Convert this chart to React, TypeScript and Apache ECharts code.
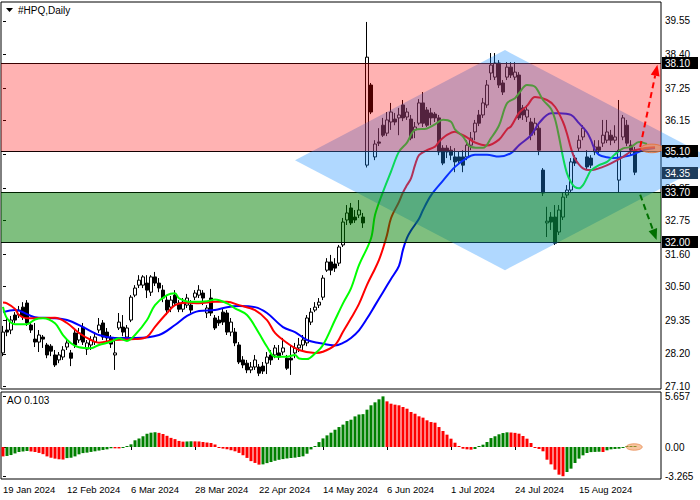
import React, { useEffect, useRef } from "react";
import * as echarts from "echarts";

const FONT = '"Liberation Sans", Arial, sans-serif';
const MONTHS = ["Jan", "Feb", "Mar", "Apr", "May", "Jun", "Jul", "Aug", "Sep", "Oct", "Nov", "Dec"];

// ---- calendar ----
const firstSession = "2024-01-19";
const marketHolidays = ["2024-02-19", "2024-03-29", "2024-05-27", "2024-06-19", "2024-07-04", "2024-09-02"];
const slotCount = 165; // bars + right margin where the shifted Alligator lines continue
const labelStep = 16;
const lastLabelIndex = 144;

// ---- daily candles: [open, high, low, close] ----
const candles: number[][] = [
  [28.23, 29.15, 28.12, 28.94], [29.01, 29.42, 28.8, 28.94], [29.01, 29.49, 28.87, 29.35], [29.52, 29.62, 29.25, 29.35],
  [29.52, 29.83, 29.42, 29.69], [29.79, 29.96, 29.35, 29.45], [29.93, 30.03, 29.15, 29.25], [29.18, 29.28, 28.91, 29.01],
  [28.7, 29.25, 28.43, 28.6], [28.6, 29.01, 28.26, 28.84],
  [28.77, 28.84, 28.4, 28.7], [28.5, 28.57, 28.05, 28.16], [28.46, 28.53, 28.12, 28.29], [28.16, 28.33, 27.75, 27.82],
  [27.99, 28.26, 27.88, 28.16], [28.09, 28.46, 27.99, 28.33], [28.43, 28.67, 28.33, 28.57], [28.23, 28.33, 27.78, 28.05],
  [28.91, 29.01, 28.4, 28.5], [28.67, 29.08, 28.57, 28.91],
  [29.11, 29.25, 28.5, 28.6], [28.36, 28.67, 28.16, 28.57], [28.5, 28.8, 28.33, 28.67], [28.6, 28.91, 28.5, 28.77],
  [29.01, 29.42, 28.91, 29.18], [29.25, 29.35, 28.67, 28.77], [28.94, 29.08, 28.6, 28.74], [28.74, 28.84, 28.4, 28.53],
  [28.16, 28.67, 27.65, 28.23], [29.08, 29.59, 29.01, 29.28],
  [29.11, 29.52, 28.8, 28.94], [28.77, 29.18, 28.67, 29.08], [29.35, 30.2, 29.28, 30.13], [30.2, 30.54, 30.13, 30.44],
  [30.54, 30.88, 30.44, 30.71], [30.54, 30.88, 30.44, 30.82], [30.61, 30.88, 30.1, 30.37], [30.3, 30.88, 30.17, 30.82],
  [30.82, 30.99, 30.51, 30.61], [30.61, 30.78, 30.3, 30.44],
  [30.37, 30.54, 29.96, 30.1], [30.03, 30.17, 29.52, 29.69], [29.79, 30.17, 29.62, 30.03], [30.2, 30.37, 29.83, 29.93],
  [29.93, 30.03, 29.62, 29.72], [29.72, 30.1, 29.62, 29.96], [29.86, 30.24, 29.76, 30.1], [29.86, 30.03, 29.59, 29.69],
  [30.13, 30.37, 30.03, 30.27], [30.2, 30.54, 30.1, 30.37],
  [30.27, 30.37, 29.86, 30.1], [29.59, 29.86, 29.42, 29.76], [30.1, 30.41, 29.49, 29.59], [29.42, 29.52, 29.01, 29.08],
  [29.35, 29.49, 29.15, 29.25], [29.62, 29.76, 29.18, 29.28], [29.59, 29.69, 28.84, 28.94], [28.94, 29.42, 28.8, 29.28],
  [28.94, 29.08, 28.46, 28.57], [28.5, 28.6, 27.85, 27.92],
  [27.99, 28.12, 27.71, 27.82], [27.88, 27.99, 27.54, 27.65], [27.65, 27.92, 27.54, 27.75], [27.75, 28.16, 27.65, 27.99],
  [27.75, 27.85, 27.44, 27.54], [27.78, 27.92, 27.51, 27.61], [27.88, 28.26, 27.51, 28.09], [28.16, 28.33, 27.82, 27.99],
  [28.16, 28.5, 28.05, 28.4], [28.23, 28.5, 27.99, 28.09],
  [28.26, 28.74, 28.16, 28.4], [28.05, 28.16, 27.65, 27.71], [28.05, 28.5, 27.48, 27.99], [28.23, 28.57, 28.05, 28.4],
  [28.4, 28.74, 28.26, 28.5], [28.5, 28.84, 28.33, 28.67], [28.57, 29.52, 28.46, 29.42], [29.28, 29.76, 29.18, 29.62],
  [29.69, 29.96, 29.62, 29.79], [29.86, 30.1, 29.76, 29.96],
  [30.13, 30.88, 30.03, 30.78], [31.05, 31.46, 30.99, 31.33], [31.33, 31.57, 30.88, 31.05], [31.26, 31.46, 30.99, 31.12],
  [31.29, 31.91, 31.19, 31.84], [31.91, 32.83, 31.84, 32.69], [32.76, 33.27, 32.59, 33.0], [33.17, 33.34, 32.59, 32.66],
  [32.86, 33.1, 32.66, 32.76], [32.93, 33.44, 32.83, 33.1],
  [32.86, 33.0, 32.49, 32.66], [34.63, 39.51, 34.55, 38.31], [37.36, 37.43, 36.37, 36.44], [34.91, 35.48, 34.8, 35.35],
  [35.42, 35.89, 35.28, 35.38], [35.99, 36.24, 35.59, 35.65], [35.72, 36.44, 35.62, 36.17], [36.1, 36.75, 35.83, 36.44],
  [36.2, 36.41, 35.99, 36.1], [36.24, 36.58, 35.65, 36.34],
  [36.68, 36.85, 36.13, 36.24], [36.27, 36.58, 36.17, 36.44], [36.2, 36.34, 35.48, 35.55], [35.83, 36.1, 35.55, 35.93],
  [36.06, 36.88, 35.99, 36.75], [36.75, 37.12, 35.93, 36.06], [36.51, 36.61, 35.93, 35.99], [36.41, 36.58, 35.99, 36.24],
  [36.37, 36.44, 36.1, 36.24], [36.24, 36.34, 34.97, 35.08],
  [35.21, 35.31, 34.63, 34.7], [35.21, 35.31, 34.87, 35.08], [35.14, 35.28, 34.8, 34.97], [34.91, 35.21, 34.39, 34.74],
  [34.91, 35.08, 34.7, 34.77], [34.91, 35.14, 34.39, 34.63], [34.91, 35.48, 34.8, 35.31], [35.31, 35.76, 35.14, 35.55],
  [35.76, 36.17, 35.48, 36.06], [36.34, 36.51, 35.96, 36.06],
  [36.34, 36.92, 36.24, 36.75], [36.68, 37.53, 36.58, 37.36], [37.77, 38.45, 37.53, 38.04], [37.63, 38.45, 37.53, 38.11],
  [38.11, 38.21, 37.26, 37.36], [37.43, 37.53, 37.02, 37.12], [37.63, 38.14, 37.53, 37.97], [37.97, 38.14, 37.6, 37.7],
  [37.63, 38.14, 37.53, 37.8], [37.7, 37.8, 36.17, 36.24],
  [36.58, 36.68, 36.17, 36.34], [36.27, 36.68, 36.1, 36.51], [36.1, 36.24, 35.48, 35.65], [35.83, 36.24, 35.65, 36.06],
  [35.89, 35.99, 34.97, 35.14], [34.46, 34.53, 33.58, 33.68], [32.66, 33.21, 32.18, 32.72], [32.86, 33.03, 32.42, 32.69],
  [32.86, 33.27, 31.91, 31.97], [32.35, 33.27, 32.25, 33.1],
  [32.86, 33.68, 32.76, 33.54], [33.61, 33.95, 33.51, 33.78], [33.78, 34.87, 33.71, 34.74], [34.87, 34.97, 34.6, 34.7],
  [35.21, 35.65, 35.08, 35.48], [35.59, 35.99, 35.48, 35.89], [34.91, 35.14, 34.46, 34.57], [34.87, 34.97, 34.53, 34.63],
  [35.08, 35.48, 34.97, 35.25], [35.25, 35.48, 35.04, 35.14],
  [35.38, 36.17, 35.25, 35.65], [35.48, 36.17, 35.38, 35.76], [35.65, 35.83, 35.31, 35.48], [35.48, 35.99, 35.38, 35.59],
  [34.12, 36.85, 33.71, 35.14], [35.59, 36.34, 35.48, 36.24], [35.99, 36.17, 35.28, 35.38], [35.31, 35.48, 34.97, 35.14],
  [35.14, 35.25, 34.29, 34.39],
];

// ---- Alligator lines, read at sample bars: [bar index, price] ----
const jaw: number[][] = [
  [0, 29.62], [3, 29.69], [8, 29.45], [12, 29.42], [16, 29.35], [20, 29.11], [24, 28.84], [28, 28.74], [33, 28.74],
  [39, 28.84], [43, 29.18], [46, 29.49], [49, 29.66], [53, 29.69], [56, 29.79], [59, 29.83], [63, 29.79], [66, 29.59],
  [70, 29.11], [73, 28.94], [76, 28.67], [79, 28.57], [83, 28.48], [85, 28.57], [87, 28.74], [89, 29.0], [91, 29.4],
  [93, 29.85], [95, 30.3], [97, 30.75], [99, 31.2], [100, 31.75], [101, 32.15], [102, 32.4], [104, 32.8], [105, 33.1],
  [107, 33.6], [110, 34.1], [113, 34.57], [116, 34.88], [118, 34.98], [121, 34.98], [124, 34.92], [127, 35.04],
  [129, 35.31], [132, 35.65], [134, 36.06], [137, 36.4], [139, 36.4], [142, 36.34], [144, 36.06], [146, 35.75],
  [147, 35.48], [148, 35.15], [149, 34.98], [151, 34.9], [153, 34.87], [155, 34.91], [157, 34.97], [160, 35.14], [163, 35.21],
];
const teeth: number[][] = [
  [0, 29.95], [1, 29.92], [3, 29.73], [4, 29.52], [6, 29.41], [9, 29.42], [13, 29.43], [16, 29.25], [19, 28.91],
  [22, 28.67], [24, 28.58], [28, 28.67], [33, 28.7], [36, 28.78], [38, 29.12], [41, 29.59], [43, 29.86], [46, 29.94],
  [49, 29.92], [53, 29.97], [56, 29.97], [59, 29.86], [63, 29.69], [66, 29.35], [68, 28.91], [71, 28.57], [74, 28.33],
  [78, 28.23], [80, 28.27], [83, 28.5], [85, 28.95], [87, 29.41], [89, 29.9], [91, 30.55], [93, 31.1], [94, 31.4],
  [95, 31.79], [96, 32.25], [97, 32.82], [99, 33.38], [100, 33.7], [101, 33.95], [102, 34.18], [103, 34.63], [104, 34.97],
  [106, 35.14], [108, 35.26], [109, 35.43], [111, 35.66], [113, 35.77], [114, 35.71], [116, 35.58], [118, 35.4],
  [121, 35.3], [124, 35.5], [126, 35.85], [127, 35.95], [129, 36.41], [131, 36.65], [133, 36.95], [136, 36.85],
  [138, 36.62], [140, 36.1], [141, 35.7], [142, 35.2], [143, 34.85], [145, 34.52], [147, 34.46], [150, 34.57],
  [152, 34.69], [155, 34.91], [157, 35.09], [160, 35.2], [163, 35.24],
];
const lips: number[][] = [
  [0, 29.8], [1, 29.41], [3, 29.21], [6, 29.21], [8, 29.37], [10, 29.41], [13, 29.24], [15, 28.84], [17, 28.56],
  [19, 28.42], [22, 28.39], [24, 28.5], [27, 28.61], [29, 28.73], [31, 28.64], [33, 28.84], [36, 29.35], [38, 29.86],
  [41, 30.2], [43, 30.26], [44, 30.09], [47, 29.97], [51, 29.99], [53, 30.05], [56, 29.92], [58, 29.75], [61, 29.52],
  [64, 28.9], [66, 28.44], [68, 28.1], [71, 28.1], [73, 28.16], [74, 28.04], [76, 28.02], [78, 28.21], [80, 28.5],
  [83, 29.35], [85, 29.92], [87, 30.43], [89, 31.22], [92, 32.13], [93, 32.93], [95, 33.72], [97, 34.41], [99, 35.09],
  [101, 35.4], [103, 35.83], [106, 35.88], [108, 36.02], [110, 36.18], [112, 36.11], [113, 35.85], [115, 35.6],
  [117, 35.25], [120, 35.22], [122, 35.55], [124, 35.98], [126, 36.74], [128, 36.91], [129, 37.08], [131, 37.36],
  [133, 37.3], [135, 36.85], [137, 36.55], [138, 36.2], [139, 35.6], [140, 34.9], [141, 34.35], [142, 34.05],
  [143, 33.88], [144, 33.84], [145, 33.95], [146, 34.2], [147, 34.45], [149, 34.63], [151, 34.74], [153, 35.0],
  [155, 35.2], [157, 35.25], [159, 35.42], [161, 35.35],
];

// ---- Awesome Oscillator histogram ----
const aoValues: number[] = [
  -1.05, -1.0, -0.9, -0.72, -0.56, -0.5, -0.45, -0.5, -0.56, -0.66,
  -0.8, -1.05, -1.2, -1.3, -1.37, -1.4, -1.24, -1.2, -1.05, -0.82,
  -0.68, -0.63, -0.55, -0.48, -0.4, -0.33, -0.26, -0.14, -0.15, -0.16,
  -0.08, 0.05, 0.3, 0.75, 0.95, 1.2, 1.48, 1.6, 1.65, 1.58,
  1.45, 1.25, 1.02, 0.88, 0.68, 0.6, 0.62, 0.64, 0.63, 0.62,
  0.56, 0.5, 0.45, 0.28, -0.06, -0.18, -0.25, -0.36, -0.48, -0.66,
  -0.92, -1.22, -1.58, -1.78, -1.97, -1.94, -1.8, -1.68, -1.54, -1.43,
  -1.35, -1.28, -1.23, -1.19, -1.12, -1.04, -0.75, -0.27, 0.1, 0.55,
  0.96, 1.3, 1.6, 1.93, 2.23, 2.5, 2.9, 3.05, 3.42, 3.63,
  3.67, 4.17, 4.66, 4.99, 5.33, 5.657, 5.1, 4.84, 4.73, 4.66,
  4.47, 4.28, 3.91, 3.72, 3.43, 3.28, 2.98, 2.79, 2.72, 2.23,
  1.79, 1.38, 0.93, 0.48, 0.07, -0.19, -0.26, -0.3, -0.22, 0.02,
  0.26, 0.56, 1.0, 1.2, 1.42, 1.56, 1.64, 1.62, 1.58, 1.49,
  1.23, 0.93, 0.45, -0.02, -0.22, -0.48, -1.42, -1.94, -2.53, -3.09,
  -3.265, -2.79, -2.42, -1.79, -1.3, -0.93, -0.67, -0.57, -0.55, -0.53,
  -0.56, -0.37, -0.26, -0.22, -0.19, -0.11, 0.02, 0.06, 0.103,
];

// ---- axes ----
const priceMin = 27.0;
const priceMax = 40.19;
const priceTicks = [27.1, 28.2, 29.35, 30.5, 31.6, 32.75, 33.85, 35.0, 36.15, 37.25, 38.4, 39.55];
const aoMin = -3.575;
const aoMax = 6.145;
const aoTicks = [-3.265, 0, 5.657];

// ---- drawn analysis ----
const levels = [38.1, 35.1, 33.7, 32.0];
const lastPrice = 34.35;
const resistanceZone = [35.1, 38.1];
const supportZone = [32.0, 33.7];
const rhombus: number[][] = [[73, 34.8], [125.5, 38.55], [178, 34.8], [125.5, 31.05]];
const upArrow: number[][] = [[159.3, 35.25], [163.6, 38.05]];
const downArrow: number[][] = [[159.3, 33.62], [163.4, 32.08]];
const forecastMark = [162.2, 35.2];
const aoMark = [157.8, 0];

function buildSessions(): string[] {
  const out: string[] = [];
  const d = new Date(firstSession + "T00:00:00Z");
  while (out.length < slotCount) {
    const wd = d.getUTCDay();
    const iso = d.toISOString().slice(0, 10);
    if (wd !== 0 && wd !== 6 && !marketHolidays.includes(iso)) {
      out.push(`${d.getUTCDate()} ${MONTHS[d.getUTCMonth()]} ${d.getUTCFullYear()}`);
    }
    d.setUTCDate(d.getUTCDate() + 1);
  }
  return out;
}

export default function App() {
  const ref = useRef<HTMLDivElement>(null);
  useEffect(() => {
    const chart = echarts.init(ref.current!, null, { renderer: "svg" });
    const sessions = buildSessions();
    const ohlc = candles.map(([o, h, l, c]) => [o, c, l, h]);
    const aoData = aoValues.map((v, i) => ({
      value: v,
      itemStyle: { color: i > 0 && v > aoValues[i - 1] ? "#008000" : "#ff0000" },
    }));
    const showLabel = (idx: number) => idx % labelStep === 0 && idx <= lastLabelIndex;
    const lastAo = aoValues[aoValues.length - 1];

    const lineSeries = (name: string, data: number[][], color: string) => ({
      type: "line",
      name,
      xAxisIndex: 0,
      yAxisIndex: 0,
      data,
      smooth: 0.35,
      showSymbol: false,
      symbol: "none",
      z: 3,
      lineStyle: { color, width: 2 },
      silent: true,
    });

    const option: any = {
      animation: false,
      backgroundColor: "#ffffff",
      textStyle: { fontFamily: FONT },
      grid: [
        { left: 1, right: 39, top: 2, height: 387, show: true, borderColor: "#000", borderWidth: 1, backgroundColor: "transparent" },
        { left: 1, right: 39, top: 392, height: 87, show: true, borderColor: "#000", borderWidth: 1, backgroundColor: "transparent" },
      ],
      xAxis: [
        {
          type: "category", gridIndex: 0, data: sessions, boundaryGap: true,
          axisLine: { show: false }, axisTick: { show: false }, axisLabel: { show: false }, splitLine: { show: false },
        },
        {
          type: "category", gridIndex: 1, data: sessions, boundaryGap: true,
          axisLine: { show: false },
          axisTick: { show: true, interval: showLabel, alignWithLabel: true, length: 3, lineStyle: { color: "#000" } },
          axisLabel: { interval: showLabel, align: "left", margin: 5, fontSize: 9.5, color: "#000", fontFamily: FONT },
          splitLine: { show: false },
        },
        { type: "value", gridIndex: 0, min: -0.5, max: slotCount - 0.5, show: false, position: "top" },
        { type: "value", gridIndex: 1, min: -0.5, max: slotCount - 0.5, show: false, position: "top" },
      ],
      yAxis: [
        {
          type: "value", gridIndex: 0, position: "right", min: priceMin, max: priceMax, scale: true,
          axisLine: { show: false }, splitLine: { show: false },
          axisTick: { show: true, customValues: priceTicks, length: 3, lineStyle: { color: "#000" } },
          axisLabel: {
            customValues: priceTicks, margin: 4, fontSize: 10, color: "#000", fontFamily: FONT,
            formatter: (v: number) => v.toFixed(2),
          },
        },
        {
          type: "value", gridIndex: 1, position: "right", min: aoMin, max: aoMax,
          axisLine: { show: false }, splitLine: { show: false },
          axisTick: { show: true, customValues: aoTicks, length: 3, lineStyle: { color: "#000" } },
          axisLabel: {
            customValues: aoTicks, margin: 4, fontSize: 10, color: "#000", fontFamily: FONT,
            formatter: (v: number) => (v === 0 ? "0.00" : String(v)),
          },
        },
      ],
      series: [
        {
          type: "candlestick", name: "HPQ", xAxisIndex: 0, yAxisIndex: 0, data: ohlc, barWidth: 3, z: 2,
          itemStyle: { color: "#ffffff", color0: "#000000", borderColor: "#000000", borderColor0: "#000000", borderWidth: 1 },
          silent: true,
        },
        lineSeries("Jaw", jaw, "#0000ff"),
        lineSeries("Teeth", teeth, "#ff0000"),
        lineSeries("Lips", lips, "#00ff00"),
        {
          type: "custom", name: "levels", xAxisIndex: 2, yAxisIndex: 0, z: 4, silent: true, clip: false,
          data: [[0, 30]],
          renderItem: (params: any, api: any) => {
            const cs = params.coordSys;
            return {
              type: "group",
              children: levels.map((p) => {
                const y = Math.round(api.coord([0, p])[1]) + 0.5;
                return { type: "line", shape: { x1: cs.x, y1: y, x2: cs.x + cs.width, y2: y }, style: { stroke: "#000", lineWidth: 1 } };
              }),
            };
          },
        },
        {
          type: "custom", name: "zones", xAxisIndex: 2, yAxisIndex: 0, z: 10, silent: true, clip: false,
          data: [[0, 30]],
          renderItem: (params: any, api: any) => {
            const cs = params.coordSys;
            const yOf = (p: number) => api.coord([0, p])[1];
            const band = (lo: number, hi: number, fill: string) => ({
              type: "rect",
              shape: { x: cs.x, y: yOf(hi), width: cs.width, height: yOf(lo) - yOf(hi) },
              style: { fill },
            });
            return {
              type: "group",
              children: [
                { type: "polygon", shape: { points: rhombus.map((pt) => api.coord(pt)) }, style: { fill: "rgba(30,144,255,0.35)" } },
                band(resistanceZone[0], resistanceZone[1], "rgba(255,0,0,0.3)"),
                band(supportZone[0], supportZone[1], "rgba(0,128,0,0.5)"),
              ],
            };
          },
        },
        {
          type: "custom", name: "forecast", xAxisIndex: 2, yAxisIndex: 0, z: 12, silent: true, clip: false,
          data: [[0, 30]],
          renderItem: (params: any, api: any) => {
            const arrow = (from: number[], to: number[], color: string) => {
              const a = api.coord(from);
              const b = api.coord(to);
              const dx = b[0] - a[0];
              const dy = b[1] - a[1];
              const len = Math.hypot(dx, dy);
              const ux = dx / len;
              const uy = dy / len;
              const head = 11;
              const half = 4.5;
              const bx = b[0] - ux * head;
              const by = b[1] - uy * head;
              return [
                { type: "line", shape: { x1: a[0], y1: a[1], x2: bx, y2: by }, style: { stroke: color, lineWidth: 2, lineDash: [6, 4] } },
                {
                  type: "polygon",
                  shape: { points: [b, [bx - uy * half, by + ux * half], [bx + uy * half, by - ux * half]] },
                  style: { fill: color },
                },
              ];
            };
            const c = api.coord(forecastMark);
            return {
              type: "group",
              children: [
                ...arrow(upArrow[0], upArrow[1], "#ff0000"),
                ...arrow(downArrow[0], downArrow[1], "#007000"),
                {
                  type: "ellipse",
                  shape: { cx: c[0], cy: c[1], rx: 11, ry: 4.3 },
                  style: { fill: "rgba(240,150,80,0.55)", stroke: "rgba(230,110,50,0.8)", lineWidth: 1 },
                },
              ],
            };
          },
        },
        {
          type: "custom", name: "priceTags", xAxisIndex: 2, yAxisIndex: 0, z: 20, silent: true, clip: false,
          data: [[0, 30]],
          renderItem: (params: any, api: any) => {
            const cs = params.coordSys;
            const x = cs.x + cs.width + 1;
            const tag = (p: number, bg: string) => {
              const y = Math.round(api.coord([0, p])[1]);
              return [
                { type: "rect", shape: { x, y: y - 6, width: 36, height: 12 }, style: { fill: bg } },
                {
                  type: "text",
                  style: { text: p.toFixed(2), x: x + 3, y: y + 0.5, fill: "#fff", font: `10px ${FONT}`, align: "left", verticalAlign: "middle" },
                },
              ];
            };
            const children: any[] = [];
            levels.forEach((p) => children.push(...tag(p, "#000000")));
            children.push(...tag(lastPrice, "#1f3d5c"));
            return { type: "group", children };
          },
        },
        {
          type: "bar", name: "AO", xAxisIndex: 1, yAxisIndex: 1, data: aoData, barWidth: 3, barMinHeight: 1, silent: true,
        },
        {
          type: "custom", name: "aoMark", xAxisIndex: 3, yAxisIndex: 1, z: 12, silent: true, clip: false,
          data: [[0, 0]],
          renderItem: (params: any, api: any) => {
            const c = api.coord(aoMark);
            return {
              type: "ellipse",
              shape: { cx: c[0], cy: c[1], rx: 8, ry: 3.2 },
              style: { fill: "rgba(240,150,80,0.55)", stroke: "rgba(230,130,70,0.7)", lineWidth: 1 },
            };
          },
        },
      ],
      graphic: [
        { type: "polygon", shape: { points: [[6, 8], [13, 8], [9.5, 12]] }, style: { fill: "#000" }, silent: true },
        { type: "text", left: 18, top: 5, style: { text: "#HPQ,Daily", font: `10px ${FONT}`, fill: "#000" }, silent: true },
        { type: "text", left: 7, top: 395, style: { text: `AO ${lastAo.toFixed(3)}`, font: `10px ${FONT}`, fill: "#000" }, silent: true },
      ],
    };
    chart.setOption(option);
    return () => chart.dispose();
  }, []);
  return <div ref={ref} style={{ position: "fixed", left: 0, top: 0, width: 700, height: 500 }} />;
}
